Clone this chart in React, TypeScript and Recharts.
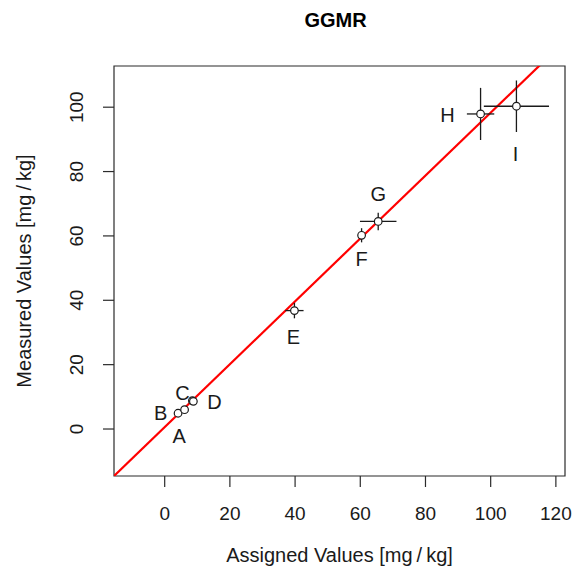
import React from 'react';
import {
  ScatterChart,
  Scatter,
  XAxis,
  YAxis,
  ErrorBar,
  ReferenceLine,
  ReferenceArea,
} from 'recharts';

// Laboratory results: assigned vs. measured values with expanded uncertainties
const labels = ['A', 'B', 'C', 'D', 'E', 'F', 'G', 'H', 'I'];
const assigned = [4.1, 6.1, 8.5, 8.8, 39.8, 60.4, 65.5, 96.9, 107.9];
const measured = [4.9, 6.0, 8.8, 8.6, 36.8, 60.2, 64.5, 97.9, 100.3];
const assignedUnc = [0.8, 0.8, 0.8, 0.8, 2.8, 0.9, 5.6, 4.2, 10.0];
const measuredUnc = [0.8, 0.8, 0.8, 0.8, 2.4, 2.2, 2.7, 8.1, 8.0];

const xTicks = [0, 20, 40, 60, 80, 100, 120];
const yTicks = [0, 20, 40, 60, 80, 100];
const xDomain: [number, number] = [-15.55, 122.8];
const yDomain: [number, number] = [-14.6, 112.8];

// Fitted line through the results
const fitIntercept = 0.59;
const fitSlope = 0.977;

const points = labels.map((label, i) => ({
  label,
  x: assigned[i],
  y: measured[i],
  ex: assignedUnc[i],
  ey: measuredUnc[i],
}));

// Placement of each point's letter relative to its marker (px)
const labelOffset: Record<string, [number, number]> = {
  A: [1, 23],
  B: [-24, 3],
  C: [-10, -8],
  D: [21, 1],
  E: [-1, 26],
  F: [0, 24],
  G: [0, -27],
  H: [-33, 1],
  I: [-1, 48],
};

const FONT = '"Liberation Sans", Arial, Helvetica, sans-serif';
const INK = '#1a1a1a';
const FRAME = '#2b2b2b';
const W = 573;
const H = 571;
const PLOT = { left: 114, right: 565, top: 66, bottom: 476 };

const PointShape = (props: any) => {
  const { cx, cy, payload } = props;
  const [dx, dy] = labelOffset[payload.label] || [0, 0];
  return (
    <g>
      <circle cx={cx} cy={cy} r={3.8} fill="#ffffff" stroke={INK} strokeWidth={1.2} />
      <text
        x={cx + dx}
        y={cy + dy + 7}
        textAnchor="middle"
        fontFamily={FONT}
        fontSize={20}
        fill={INK}
      >
        {payload.label}
      </text>
    </g>
  );
};

const XTick = (props: any) => (
  <text x={props.x} y={520} textAnchor="middle" fontFamily={FONT} fontSize={19} fill={INK}>
    {props.payload.value}
  </text>
);

const YTick = (props: any) => (
  <text
    x={83}
    y={props.y}
    transform={`rotate(-90 83 ${props.y})`}
    textAnchor="middle"
    fontFamily={FONT}
    fontSize={19}
    fill={INK}
  >
    {props.payload.value}
  </text>
);

export default function App() {
  const plotCenterX = (PLOT.left + PLOT.right) / 2;
  const plotCenterY = (PLOT.top + PLOT.bottom) / 2;
  return (
    <div style={{ position: 'absolute', left: 0, top: 0, width: W, height: H, background: '#fff' }}>
      <ScatterChart
        width={W}
        height={H}
        margin={{ top: PLOT.top, right: W - PLOT.right, bottom: 0, left: 0 }}
      >
        <XAxis
          type="number"
          dataKey="x"
          domain={xDomain}
          ticks={xTicks}
          allowDataOverflow
          height={H - PLOT.bottom}
          axisLine={false}
          tickSize={11}
          tickLine={{ stroke: FRAME, strokeWidth: 1.2 }}
          tick={<XTick />}
          interval={0}
        />
        <YAxis
          type="number"
          dataKey="y"
          domain={yDomain}
          ticks={yTicks}
          allowDataOverflow
          width={PLOT.left}
          axisLine={false}
          tickSize={11}
          tickLine={{ stroke: FRAME, strokeWidth: 1.2 }}
          tick={<YTick />}
          interval={0}
        />
        <ReferenceArea
          x1={xDomain[0]}
          x2={xDomain[1]}
          y1={yDomain[0]}
          y2={yDomain[1]}
          fill="none"
          fillOpacity={0}
          stroke={FRAME}
          strokeWidth={1.2}
          ifOverflow="visible"
        />
        <ReferenceLine
          segment={[
            { x: xDomain[0] - 10, y: fitIntercept + fitSlope * (xDomain[0] - 10) },
            { x: xDomain[1] + 10, y: fitIntercept + fitSlope * (xDomain[1] + 10) },
          ]}
          stroke="#ff0000"
          strokeWidth={2.2}
          ifOverflow="hidden"
        />
        <Scatter data={points} shape={<PointShape />} isAnimationActive={false}>
          <ErrorBar dataKey="ex" direction="x" width={0} stroke={INK} strokeWidth={1.3} />
          <ErrorBar dataKey="ey" direction="y" width={0} stroke={INK} strokeWidth={1.3} />
        </Scatter>
        <text
          x={plotCenterX - 4}
          y={27}
          textAnchor="middle"
          fontFamily={FONT}
          fontSize={20}
          fontWeight="bold"
          fill="#000"
        >
          GGMR
        </text>
        <text
          x={plotCenterX}
          y={562}
          textAnchor="middle"
          fontFamily={FONT}
          fontSize={20}
          fill={INK}
        >
          {'Assigned Values [mg\u2009/\u2009kg]'}
        </text>
        <text
          x={31}
          y={plotCenterY}
          transform={`rotate(-90 31 ${plotCenterY})`}
          textAnchor="middle"
          fontFamily={FONT}
          fontSize={20}
          fill={INK}
        >
          {'Measured Values [mg\u2009/\u2009kg]'}
        </text>
      </ScatterChart>
    </div>
  );
}
